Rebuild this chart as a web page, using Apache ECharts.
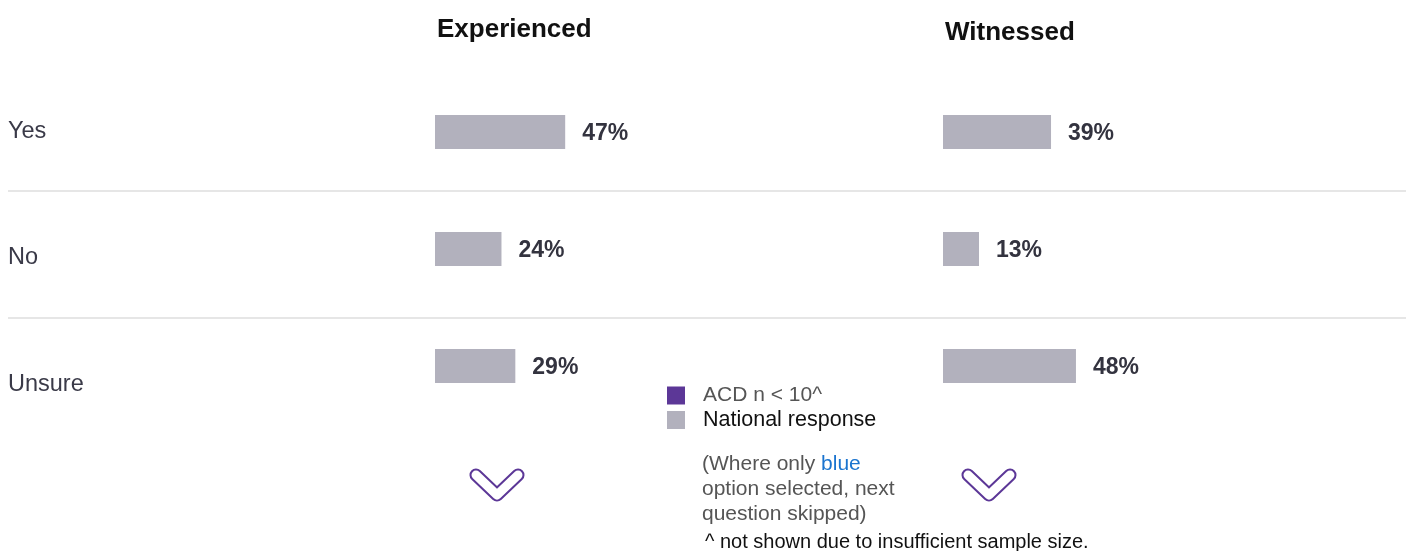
<!DOCTYPE html>
<html>
<head>
<meta charset="utf-8">
<script src="https://cdn.jsdelivr.net/npm/echarts@6/dist/echarts.min.js"></script>
<style>
  html, body { margin: 0; padding: 0; background: #ffffff; }
  #chart { width: 1406px; height: 551px; }
</style>
</head>
<body>
<div id="chart"></div>
<script>
// Survey answers and national response shares (%)
const categories = ['Yes', 'No', 'Unsure'];
const panelTitles = ['Experienced', 'Witnessed'];
const experienced = [47, 24, 29];
const witnessed = [39, 13, 48];
const acdValues = ['-', '-', '-']; // suppressed: n < 10
const legendNames = ['ACD n < 10^', 'National response'];

const GREY = '#b2b1bd';
const PURPLE = '#5c3797';
const TEXT = '#33333f';
const FONT = 'Liberation Sans, Arial, Helvetica, sans-serif';

const chart = echarts.init(document.getElementById('chart'), null, { renderer: 'canvas' });

function barSeries(name, data, idx, color, withLabel) {
  return {
    type: 'bar',
    name: name,
    xAxisIndex: idx,
    yAxisIndex: idx,
    data: data,
    barWidth: 34,
    barGap: '-100%',
    itemStyle: { color: color },
    silent: true,
    label: {
      show: withLabel,
      position: 'right',
      distance: 17,
      offset: [0, 2],
      formatter: '{c}%',
      fontFamily: FONT,
      fontWeight: 'bold',
      fontSize: 23,
      color: TEXT
    }
  };
}

// draws a chevron as a thick purple stroke with a white core
function chevron(cx) {
  const pts = [[cx - 21, 475], [cx, 495], [cx + 21, 475]];
  return [
    { type: 'polyline', shape: { points: pts }, silent: true,
      style: { stroke: PURPLE, lineWidth: 13, lineCap: 'round', lineJoin: 'round', fill: null } },
    { type: 'polyline', shape: { points: pts }, silent: true, z: 101,
      style: { stroke: '#ffffff', lineWidth: 9, lineCap: 'round', lineJoin: 'round', fill: null } }
  ];
}

const option = {
  backgroundColor: '#ffffff',
  animation: false,
  textStyle: { fontFamily: FONT },
  title: [
    { text: panelTitles[0], left: 432, top: 12,
      textStyle: { fontFamily: FONT, fontWeight: 'bold', fontSize: 26, color: '#111111' } },
    { text: panelTitles[1], left: 940, top: 15,
      textStyle: { fontFamily: FONT, fontWeight: 'bold', fontSize: 26, color: '#111111' } },
    { text: '(Where only {b|blue}\noption selected, next\nquestion skipped)',
      left: 697, top: 447,
      textStyle: { fontFamily: FONT, fontWeight: 'normal', fontSize: 21, lineHeight: 25, color: '#555555',
        rich: { b: { color: '#1a74cf', fontFamily: FONT, fontSize: 21, lineHeight: 25 } } } },
    { text: '^ not shown due to insufficient sample size.', left: 700, top: 527,
      textStyle: { fontFamily: FONT, fontWeight: 'normal', fontSize: 20, color: '#111111' } }
  ],
  legend: {
    orient: 'vertical',
    left: 662, top: 380,
    itemWidth: 18, itemHeight: 18, itemGap: 3,
    icon: 'rect',
    selectedMode: false,
    data: [
      { name: legendNames[0], textStyle: { color: '#555555', fontSize: 21 } },
      { name: legendNames[1], textStyle: { color: '#111111', fontSize: 21.5 } }
    ],
    textStyle: { fontFamily: FONT, fontSize: 21, padding: [0, 0, 0, 13] }
  },
  grid: [
    { left: 435, width: 277, top: 73.5, height: 351 },
    { left: 943, width: 277, top: 73.5, height: 351 },
    { left: 8, right: 0, top: 64, height: 381 },       // row separators
    { left: 8, right: 0, top: 68.25, height: 379.5 }   // row captions
  ],
  xAxis: [
    { gridIndex: 0, type: 'value', min: 0, max: 100, show: false },
    { gridIndex: 1, type: 'value', min: 0, max: 100, show: false },
    { gridIndex: 2, type: 'value', min: 0, max: 1, show: false },
    { gridIndex: 3, type: 'value', min: 0, max: 1, show: false }
  ],
  yAxis: [
    { gridIndex: 0, type: 'category', data: categories, inverse: true, show: false },
    { gridIndex: 1, type: 'category', data: categories, inverse: true, show: false },
    { gridIndex: 2, type: 'value', min: 0, max: 3, interval: 1, inverse: true,
      axisLine: { show: false }, axisTick: { show: false }, axisLabel: { show: false },
      splitLine: { show: true, showMinLine: false, showMaxLine: false,
        lineStyle: { color: '#dedede', width: 1.5 } } },
    { gridIndex: 3, type: 'category', data: categories, inverse: true,
      axisLine: { show: false }, axisTick: { show: false }, splitLine: { show: false },
      axisLabel: { inside: true, margin: 0,
        fontFamily: FONT, fontSize: 23.5, color: '#3a3a48' } }
  ],
  series: [
    barSeries(legendNames[0], acdValues, 0, PURPLE, false),
    barSeries(legendNames[1], experienced, 0, GREY, true),
    barSeries(legendNames[1], witnessed, 1, GREY, true)
  ],
  graphic: [].concat(chevron(497), chevron(989))
};

chart.setOption(option);
</script>
</body>
</html>
